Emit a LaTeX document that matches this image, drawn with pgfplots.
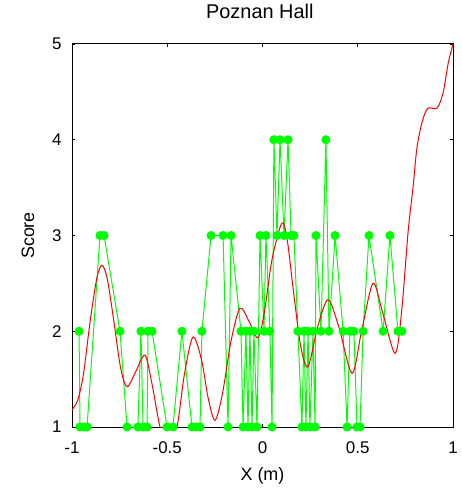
\documentclass[border=0pt]{standalone}
\usepackage{fontspec}
\setmainfont{Liberation Sans}
\usepackage{pgfplots}
\pgfplotsset{compat=1.18}
\definecolor{mlgreen}{RGB}{0,255,0}
\definecolor{mlred}{RGB}{255,0,0}
\begin{document}
\begin{tikzpicture}
\path[use as bounding box] (-72bp,-68bp) rectangle (390bp,427bp);
\begin{axis}[
  at={(0,0)}, anchor=south west,
  scale only axis, width=381bp, height=383bp,
  xmin=-1, xmax=1, ymin=1, ymax=5,
  xtick={-1,-0.5,0,0.5,1},
  xticklabels={-1,-0.5,0,0.5,1},
  ytick={1,2,3,4,5},
  yticklabels={1,2,3,4,5},
  tick align=inside,
  major tick length=3bp,
  tick style={black, line width=0.8bp},
  axis line style={black, line width=1bp},
  ticklabel style={font=\fontsize{17}{17}\selectfont},
  xticklabel style={anchor=center, yshift=-21bp},
  yticklabel style={anchor=east, xshift=-7bp},
  /pgf/number format/assume math mode=true,
  xlabel={X (m)},
  ylabel={Score},
  label style={font=\fontsize{18}{18}\selectfont},
  xlabel style={at={(axis description cs:0.5,-0.128)}, anchor=center},
  ylabel style={at={(axis description cs:-0.1155,0.5)}, anchor=center},
  title={Poznan Hall},
  title style={font=\fontsize{20}{20}\selectfont, at={(axis description cs:0.493,1.0705)}, anchor=center},
  clip=true,
]
\addplot[mlgreen, line width=1bp, mark=*, mark size=4bp, mark options={fill=mlgreen, draw=mlgreen}] coordinates {
(-0.963,2) (-0.958,1) (-0.937,1) (-0.921,1) (-0.853,3) (-0.832,3) (-0.748,2) (-0.711,1)
(-0.654,1) (-0.638,2) (-0.627,1) (-0.606,1) (-0.601,2) (-0.580,2) (-0.501,1) (-0.470,1)
(-0.423,2) (-0.370,1) (-0.349,1) (-0.328,1) (-0.318,2) (-0.270,3) (-0.207,3) (-0.181,1)
(-0.165,3) (-0.113,2) (-0.102,1) (-0.087,2) (-0.076,1) (-0.066,2) (-0.055,1) (-0.045,2)
(-0.029,1) (-0.013,3) (0.008,2) (0.018,3) (0.039,2) (0.050,1) (0.060,4) (0.076,3)
(0.092,4) (0.113,3) (0.134,4) (0.150,3) (0.165,3) (0.186,2) (0.207,1) (0.218,2)
(0.228,1) (0.239,2) (0.249,1) (0.265,2) (0.276,1) (0.281,3) (0.307,2) (0.333,4)
(0.349,2) (0.381,3) (0.423,2) (0.444,1) (0.459,2) (0.480,2) (0.496,1) (0.512,1)
(0.528,2) (0.559,3) (0.633,2) (0.669,3) (0.711,2) (0.732,2)
};
\addplot[mlred, line width=1bp, smooth] coordinates {
(-1.000,1.18) (-0.970,1.28) (-0.940,1.55) (-0.905,2.10) (-0.870,2.55) (-0.843,2.69)
(-0.815,2.55) (-0.780,2.10) (-0.745,1.62) (-0.711,1.42) (-0.665,1.58) (-0.617,1.75)
(-0.580,1.45) (-0.538,1.00) (-0.496,0.80) (-0.449,1.00) (-0.410,1.55) (-0.365,1.94)
(-0.320,1.70) (-0.285,1.30) (-0.249,1.07) (-0.210,1.35) (-0.165,1.90) (-0.118,2.24)
(-0.070,2.10) (-0.024,1.93) (0.010,2.20) (0.050,2.75) (0.102,3.13) (0.130,2.95)
(0.160,2.46) (0.200,1.85) (0.239,1.63) (0.290,2.05) (0.344,2.33) (0.400,2.05)
(0.470,1.56) (0.520,2.00) (0.580,2.50) (0.630,2.20) (0.696,1.77) (0.730,2.20)
(0.764,3.03) (0.790,3.50) (0.811,3.92) (0.840,4.20) (0.869,4.33) (0.916,4.33)
(0.948,4.49) (0.975,4.80) (1.000,5.00)
};
\end{axis}
\end{tikzpicture}
\end{document}
